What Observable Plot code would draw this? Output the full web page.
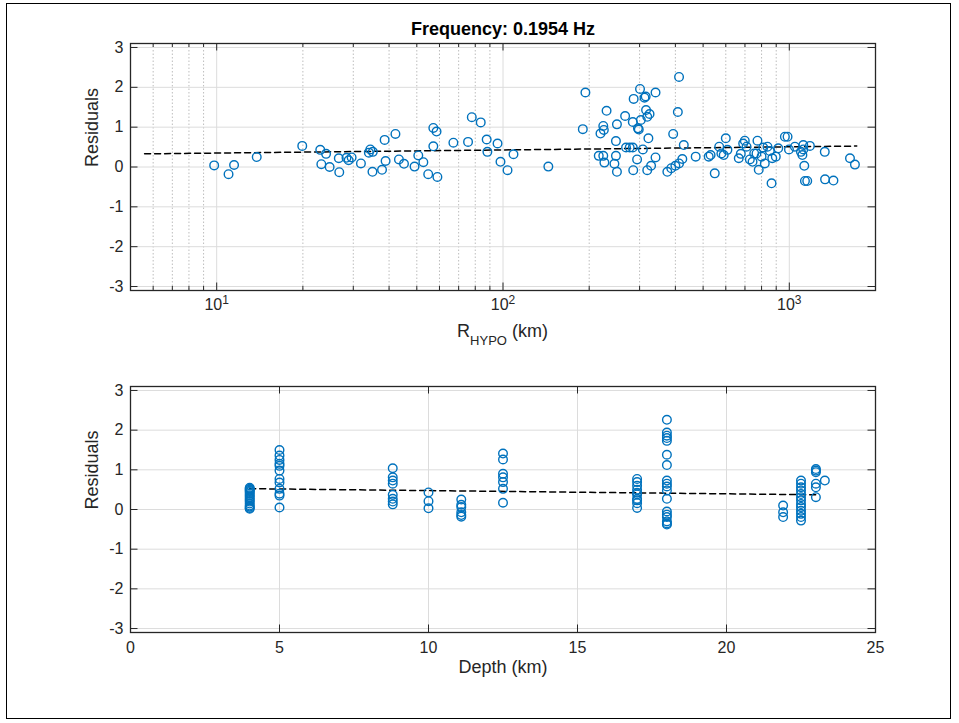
<!DOCTYPE html>
<html>
<head>
<meta charset="utf-8">
<script src="https://cdn.jsdelivr.net/npm/d3@7"></script>
<script src="https://cdn.jsdelivr.net/npm/@observablehq/plot@0.6"></script>
<style>
  body { margin: 0; background: #fff; }
  #page { position: relative; width: 959px; height: 723px; overflow: hidden;
          font-family: "Liberation Sans", Arial, Helvetica, sans-serif; background: #fff; }
  #border { position: absolute; left: 6px; top: 3px; width: 945px; height: 716px;
            border: 1.5px solid #000; box-sizing: border-box; pointer-events: none; }
  .panel { position: absolute; left: 0; }
  #rlabel { position: absolute; left: 130px; width: 745px; top: 322px; text-align: center;
            font-size: 18px; line-height: 18px; color: #262626; white-space: nowrap; }
  #rlabel .sub { font-size: 13px; position: relative; top: 8px; }
</style>
</head>
<body>
<div id="page">
  <div id="top" class="panel" style="top:0"></div>
  <div id="bottom" class="panel" style="top:350px"></div>
  <div id="rlabel">R<span class="sub">HYPO</span> (km)</div>
  <div id="border"></div>
</div>
<script>
// ---------------- DATA ----------------
const titleText = "Frequency: 0.1954 Hz";
const yLabelText = "Residuals";
const depthLabelText = "Depth (km)";

// Top panel: hypocentral distance (km) and residuals
const rhypoKm = [
  9.8, 11.0, 11.5, 13.8, 19.9, 23.0, 24.1, 23.2, 24.8, 26.8, 26.7, 28.4, 28.9, 29.6, 31.9,
  34.0, 34.4, 35.1, 35.0, 37.8, 38.9, 38.6, 42.1, 43.3, 45.1, 49.1, 50.6, 52.7, 54.8, 59.0,
  57.1, 57.1, 58.6, 67.1, 75.5, 77.8, 83.6, 87.7, 88.2, 95.7, 98, 103.7, 108.8, 144,
  194, 190, 219, 224, 225, 230, 216, 224, 226, 245, 248, 248, 250, 250, 267, 269, 277, 284,
  284, 285, 286, 296, 298, 294, 301, 303, 308, 312, 315, 316, 319, 325, 322, 319, 329, 341,
  341, 375, 387, 400, 412, 423, 393, 408, 412, 428,
  471, 523, 531, 549, 569, 579, 590, 600, 608, 666, 677, 690, 699, 709, 728, 744, 754, 774,
  782, 768, 800, 811, 821, 839, 855, 867, 872, 897, 915, 965, 986, 997,
  1046, 1098, 1119, 1119, 1111, 1128, 1180, 1134, 1155, 1330, 1333, 1426, 1629, 1695
];
const rhypoResiduals = [
  0.04, -0.18, 0.05, 0.25, 0.53, 0.43, 0.33, 0.07, 0.0, -0.13, 0.22, 0.23, 0.17, 0.24, 0.09,
  0.36, 0.44, 0.38, -0.12, -0.07, 0.15, 0.68, 0.83, 0.19, 0.08, 0.01, 0.29, 0.12, -0.18, -0.25,
  0.52, 0.98, 0.89, 0.61, 0.63, 1.25, 1.12, 0.69, 0.38, 0.59, 0.13, -0.08, 0.32, 0.01,
  1.87, 0.95, 0.84, 1.03, 0.93, 1.41, 0.28, 0.28, 0.11, 0.08, 0.28, 0.65, 1.07, -0.12, 1.28, 0.49, 0.49, 0.49,
  1.13, -0.08, 1.71, 0.97, 0.94, 0.19, 1.96, 1.18, 0.44, 1.74, 1.77, 1.43, 1.26, 1.33, 0.72, -0.08, 0.03, 1.87,
  0.24, -0.12, -0.03, 0.03, 0.09, 0.2, 0.83, 1.38, 2.26, 0.55,
  0.26, 0.26, 0.3, -0.16, 0.51, 0.34, 0.3, 0.72, 0.43, 0.22, 0.33, 0.59, 0.66, 0.51, 0.19, 0.13, 0.34, 0.66,
  -0.07, 0.34, 0.26, 0.49, 0.09, 0.51, 0.4, -0.41, 0.22, 0.26, 0.47, 0.76, 0.76, 0.44,
  0.51, 0.38, 0.55, 0.44, 0.3, 0.03, 0.53, -0.35, -0.35, 0.38, -0.31, -0.34, 0.22, 0.06
];
const rhypoTrendKm = [5.6, 1720];
const rhypoTrendRes = [0.33, 0.525];

// Bottom panel: depth (km) and residuals
const depthKm = [
  4,4,4,4,4,4,4,4,4,4,4,4,4,4,4,4,
  5,5,5,5,5,5,5,5,5,5,5,5,
  8.8,8.8,8.8,8.8,8.8,8.8,8.8,8.8,
  10,10,10,
  11.1,11.1,11.1,11.1,11.1,11.1,
  12.5,12.5,12.5,12.5,12.5,12.5,12.5,
  17,17,17,17,17,17,17,17,17,17,
  18,18,18,18,18,18,18,18,18,18,18,18,18,18,18,18,18,18,
  21.9,21.9,21.9,
  22.5,22.5,22.5,22.5,22.5,22.5,22.5,22.5,22.5,22.5,22.5,22.5,22.5,
  23,23,23,23,23,23,
  23.3
];
const depthResiduals = [
  0.55,0.52,0.5,0.47,0.44,0.4,0.36,0.32,0.28,0.24,0.2,0.15,0.1,0.07,0.04,0.02,
  1.5,1.36,1.25,1.15,1.1,0.98,0.77,0.68,0.52,0.4,0.35,0.05,
  1.04,0.81,0.73,0.65,0.37,0.27,0.2,0.13,
  0.43,0.21,0.03,
  0.25,0.12,0.06,-0.07,-0.14,-0.18,
  1.41,1.26,0.9,0.81,0.69,0.52,0.17,
  0.77,0.69,0.6,0.5,0.42,0.38,0.27,0.23,0.16,0.04,
  2.26,1.94,1.86,1.8,1.73,1.38,1.12,0.73,0.65,0.58,0.48,0.27,-0.05,-0.13,-0.19,-0.3,-0.35,-0.38,
  0.1,-0.07,-0.19,
  0.73,0.65,0.56,0.48,0.39,0.31,0.23,0.14,0.06,-0.03,-0.11,-0.19,-0.28,
  1.02,0.98,0.94,0.65,0.56,0.31,
  0.73
];
const depthTrendKm = [4, 23.1];
const depthTrendRes = [0.525, 0.37];

// Axis ticks
const residualTicks = [-3, -2, -1, 0, 1, 2, 3];
const rhypoMajorTicks = [10, 100, 1000];
const rhypoMinorTicks = [6, 7, 8, 9, 20, 30, 40, 50, 60, 70, 80, 90,
                         200, 300, 400, 500, 600, 700, 800, 900];
const depthTicks = [0, 5, 10, 15, 20, 25];

// ---------------- STYLE ----------------
const FONT = '"Liberation Sans", Arial, Helvetica, sans-serif';
const W = 959;
const frameColor = "#262626";
const gridColor = "#dcdcdc";
const minorGridColor = "#bdbdbd";
const blue = "#0072BD";

const topData = rhypoKm.map((r, i) => ({r, res: rhypoResiduals[i]}));
const topTrend = rhypoTrendKm.map((r, i) => ({r, res: rhypoTrendRes[i]}));
const botData = depthKm.map((d, i) => ({d, res: depthResiduals[i]}));
const botTrend = depthTrendKm.map((d, i) => ({d, res: depthTrendRes[i]}));

function boxTicks(xMajor, xMinor, yTicks, innerW, innerH) {
  const L = 7.5, l = 4;
  const m = [
    Plot.ruleX(xMajor, {stroke: frameColor, strokeWidth: 1, insetTop: innerH - L}),
    Plot.ruleX(xMajor, {stroke: frameColor, strokeWidth: 1, insetBottom: innerH - L}),
    Plot.ruleY(yTicks, {stroke: frameColor, strokeWidth: 1, insetRight: innerW - L}),
    Plot.ruleY(yTicks, {stroke: frameColor, strokeWidth: 1, insetLeft: innerW - L})
  ];
  if (xMinor.length) {
    m.push(Plot.ruleX(xMinor, {stroke: frameColor, strokeWidth: 1, insetTop: innerH - l}));
    m.push(Plot.ruleX(xMinor, {stroke: frameColor, strokeWidth: 1, insetBottom: innerH - l}));
  }
  return m;
}

// ---------------- TOP PANEL ----------------
{
  const H = 350, mt = 43, mb = 60, ml = 130, mr = 84;
  const innerW = W - ml - mr, innerH = H - mt - mb;
  const p = Plot.plot({
    width: W, height: H,
    marginTop: mt, marginBottom: mb, marginLeft: ml, marginRight: mr,
    style: {fontFamily: FONT, color: frameColor, background: "transparent", overflow: "visible"},
    x: {type: "log", domain: [5, 2000]},
    y: {domain: [-3.1, 3.1]},
    marks: [
      Plot.ruleX(rhypoMinorTicks, {stroke: minorGridColor, strokeWidth: 1, strokeDasharray: "1.5,2"}),
      Plot.gridX(rhypoMajorTicks, {stroke: gridColor, strokeOpacity: 1, strokeWidth: 1}),
      Plot.gridY(residualTicks, {stroke: gridColor, strokeOpacity: 1, strokeWidth: 1}),
      Plot.line(topTrend, {x: "r", y: "res", stroke: "#000", strokeWidth: 1.5, strokeDasharray: "6,4"}),
      Plot.dot(topData, {x: "r", y: "res", r: 4.3, stroke: blue, strokeWidth: 1.4, fill: "none"}),
      ...boxTicks(rhypoMajorTicks, rhypoMinorTicks, residualTicks, innerW, innerH),
      Plot.frame({stroke: frameColor, strokeWidth: 1.3}),
      Plot.axisX({ticks: rhypoMajorTicks, tickSize: 0, tickPadding: 8, fontSize: 16, label: null,
                  tickFormat: d => "10^" + Math.round(Math.log10(d))}),
      Plot.axisY({ticks: residualTicks, tickSize: 0, tickPadding: 7, fontSize: 16, label: null,
                  tickFormat: d => String(d)}),
      Plot.text([titleText], {frameAnchor: "top", lineAnchor: "middle", dy: -13.8, fontSize: 18,
                              fontWeight: "bold", fill: "#000"}),
      Plot.text([yLabelText], {frameAnchor: "left", rotate: -90, dx: -38, fontSize: 18, fill: frameColor})
    ]
  });
  // superscript exponent on the log-axis tick labels
  p.querySelectorAll("text").forEach(t => {
    const m = /^10\^(-?\d+)$/.exec(t.textContent);
    if (!m) return;
    t.textContent = "";
    const ns = "http://www.w3.org/2000/svg";
    const b = document.createElementNS(ns, "tspan");
    b.textContent = "10";
    const e = document.createElementNS(ns, "tspan");
    e.textContent = m[1];
    e.setAttribute("dy", "-0.5em");
    e.setAttribute("font-size", "12");
    t.appendChild(b); t.appendChild(e);
  });
  document.getElementById("top").appendChild(p);
}

// ---------------- BOTTOM PANEL ----------------
{
  const H = 373, mt = 36, mb = 91, ml = 130, mr = 84;
  const innerW = W - ml - mr, innerH = H - mt - mb;
  const p = Plot.plot({
    width: W, height: H,
    marginTop: mt, marginBottom: mb, marginLeft: ml, marginRight: mr,
    style: {fontFamily: FONT, color: frameColor, background: "transparent", overflow: "visible"},
    x: {domain: [0, 25]},
    y: {domain: [-3.1, 3.1]},
    marks: [
      Plot.gridX(depthTicks, {stroke: gridColor, strokeOpacity: 1, strokeWidth: 1}),
      Plot.gridY(residualTicks, {stroke: gridColor, strokeOpacity: 1, strokeWidth: 1}),
      Plot.line(botTrend, {x: "d", y: "res", stroke: "#000", strokeWidth: 1.5, strokeDasharray: "6,4"}),
      Plot.dot(botData, {x: "d", y: "res", r: 4.3, stroke: blue, strokeWidth: 1.4, fill: "none"}),
      ...boxTicks(depthTicks, [], residualTicks, innerW, innerH),
      Plot.frame({stroke: frameColor, strokeWidth: 1.3}),
      Plot.axisX({ticks: depthTicks, tickSize: 0, tickPadding: 9, fontSize: 16, label: null,
                  tickFormat: d => String(d)}),
      Plot.axisY({ticks: residualTicks, tickSize: 0, tickPadding: 7, fontSize: 16, label: null,
                  tickFormat: d => String(d)}),
      Plot.text([depthLabelText], {frameAnchor: "bottom", lineAnchor: "middle", dy: 35, fontSize: 18, fill: frameColor}),
      Plot.text([yLabelText], {frameAnchor: "left", rotate: -90, dx: -38, fontSize: 18, fill: frameColor})
    ]
  });
  document.getElementById("bottom").appendChild(p);
}
</script>
</body>
</html>
